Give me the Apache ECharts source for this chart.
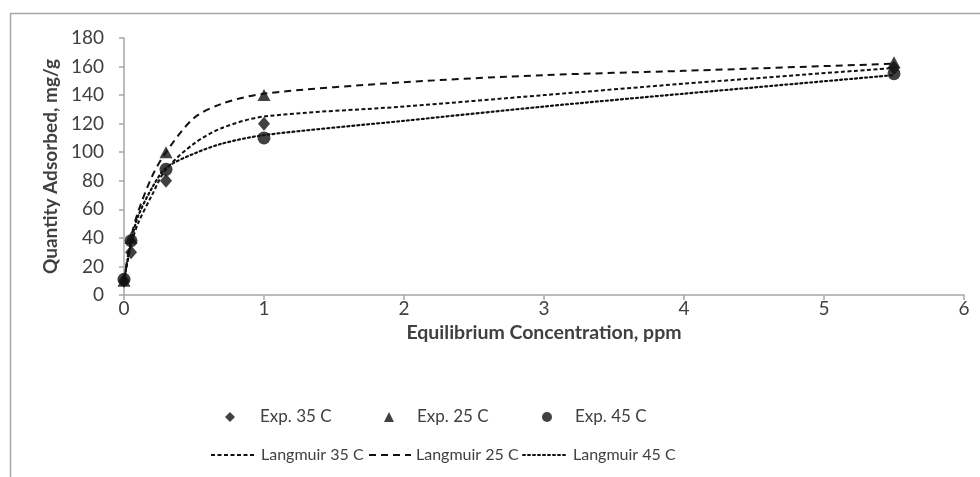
<!DOCTYPE html>
<html>
<head>
<meta charset="utf-8">
<script src="https://cdn.jsdelivr.net/npm/echarts@6/dist/echarts.min.js"></script>
<style>
html,body{margin:0;padding:0;background:#fff;}
#chart{width:980px;height:477px;}
</style>
</head>
<body>
<div id="chart"></div>
<script>
// Experimental data (x = equilibrium concentration, ppm)
const expX = [0, 0.05, 0.3, 1, 5.5];
const exp35 = [10, 30, 80, 120, 159];
const exp25 = [10, 40, 100, 140, 163];
const exp45 = [11, 38, 88, 110, 155];

// Langmuir fit curves
const fitX = [0, 0.05, 0.1, 0.2, 0.3, 0.5, 0.7, 1, 2, 3, 4, 5.5];
const lang35 = [10, 35, 50, 70, 88, 106, 117, 125, 132, 140, 148, 159];
const lang25 = [10, 40, 58, 83, 100, 124, 134, 141, 149, 154, 157, 162];
const lang45 = [10, 37, 55, 75, 89, 99, 106, 112, 122, 132, 141, 154];

const xTicks = [0, 1, 2, 3, 4, 5, 6];
const yTicks = [0, 20, 40, 60, 80, 100, 120, 140, 160, 180];

const FONT = 'Lato';
const zip = (xs, ys) => xs.map((x, i) => [x, ys[i]]);

const chart = echarts.init(document.getElementById('chart'), null, {renderer: 'canvas'});

const legendBase = (name, left, top, w, h, padL, hideSym, fs) => {
  const l = {
    data: [name], left: left, top: top, itemWidth: w, itemHeight: h, itemGap: 0,
    padding: 0, selectedMode: false,
    textStyle: {fontFamily: FONT, fontSize: fs, color: '#404040', lineHeight: 20, padding: [0, 0, 0, padL]}
  };
  if (hideSym) l.itemStyle = {opacity: 0, color: 'transparent', borderWidth: 0};
  return l;
};

chart.setOption({
  animation: false,
  backgroundColor: '#fff',
  graphic: [{
    type: 'rect', shape: {x: 10.5, y: 13.5, width: 1200, height: 1000},
    style: {fill: 'none', stroke: '#a6a6a6', lineWidth: 1.5}, silent: true, z: -1
  }],
  grid: {left: 124, right: 16, top: 38, bottom: 182, containLabel: false},
  legend: [
    legendBase('Exp. 35 C', 225, 407, 10, 10, 20, false, 17),
    legendBase('Exp. 25 C', 384, 407, 10, 10, 18, false, 17),
    legendBase('Exp. 45 C', 542, 407, 10, 10, 18, false, 17),
    legendBase('Langmuir 35 C', 210, 445, 45, 10, 0, true, 16),
    legendBase('Langmuir 25 C', 368, 445, 42, 10, 0, true, 16),
    legendBase('Langmuir 45 C', 522, 445, 45, 10, 0, true, 16)
  ],
  xAxis: {
    type: 'value', min: xTicks[0], max: xTicks[xTicks.length - 1], interval: 1,
    name: 'Equilibrium Concentration, ppm', nameLocation: 'middle', nameGap: 20,
    nameTextStyle: {fontFamily: FONT, fontSize: 19.5, fontWeight: 'bold', color: '#404040'},
    axisLine: {lineStyle: {color: '#a6a6a6', width: 1.5}},
    axisTick: {show: true, length: 5, lineStyle: {color: '#a6a6a6', width: 1.5}},
    splitLine: {show: false},
    axisLabel: {fontFamily: FONT, fontSize: 19, color: '#404040', margin: 4}
  },
  yAxis: {
    type: 'value', min: yTicks[0], max: yTicks[yTicks.length - 1], interval: 20,
    name: 'Quantity Adsorbed, mg/g', nameLocation: 'middle', nameGap: 59, nameRotate: 90,
    nameTextStyle: {fontFamily: FONT, fontSize: 19, fontWeight: 'bold', color: '#404040'},
    axisLine: {show: true, lineStyle: {color: '#a6a6a6', width: 1.5}},
    axisTick: {show: true, length: 5, lineStyle: {color: '#a6a6a6', width: 1.5}},
    splitLine: {show: false},
    axisLabel: {fontFamily: FONT, fontSize: 19, color: '#404040', margin: 20}
  },
  series: [
    {name: 'Exp. 35 C', type: 'scatter', data: zip(expX, exp35), symbol: 'diamond', symbolSize: [12, 14],
     itemStyle: {color: '#111'}},
    {name: 'Exp. 25 C', type: 'scatter', data: zip(expX, exp25), symbol: 'triangle', symbolSize: [13, 12],
     itemStyle: {color: '#111'}},
    {name: 'Exp. 45 C', type: 'scatter', data: zip(expX, exp45), symbol: 'circle', symbolSize: 13,
     itemStyle: {color: '#111'}},
    {name: 'Langmuir 35 C', type: 'line', data: zip(fitX, lang35), smooth: 0.3,
     showSymbol: false, symbol: 'none',
     itemStyle: {color: '#111'}, lineStyle: {color: '#111', width: 2, type: [4, 2.5]}},
    {name: 'Langmuir 25 C', type: 'line', data: zip(fitX, lang25), smooth: 0.3,
     showSymbol: false, symbol: 'none',
     itemStyle: {color: '#111'}, lineStyle: {color: '#111', width: 2, type: [7, 5]}},
    {name: 'Langmuir 45 C', type: 'line', data: zip(fitX, lang45), smooth: 0.3,
     showSymbol: false, symbol: 'none',
     itemStyle: {color: '#111'}, lineStyle: {color: '#111', width: 2.2, type: [2, 3], cap: 'round'}}
  ]
});
</script>
</body>
</html>
